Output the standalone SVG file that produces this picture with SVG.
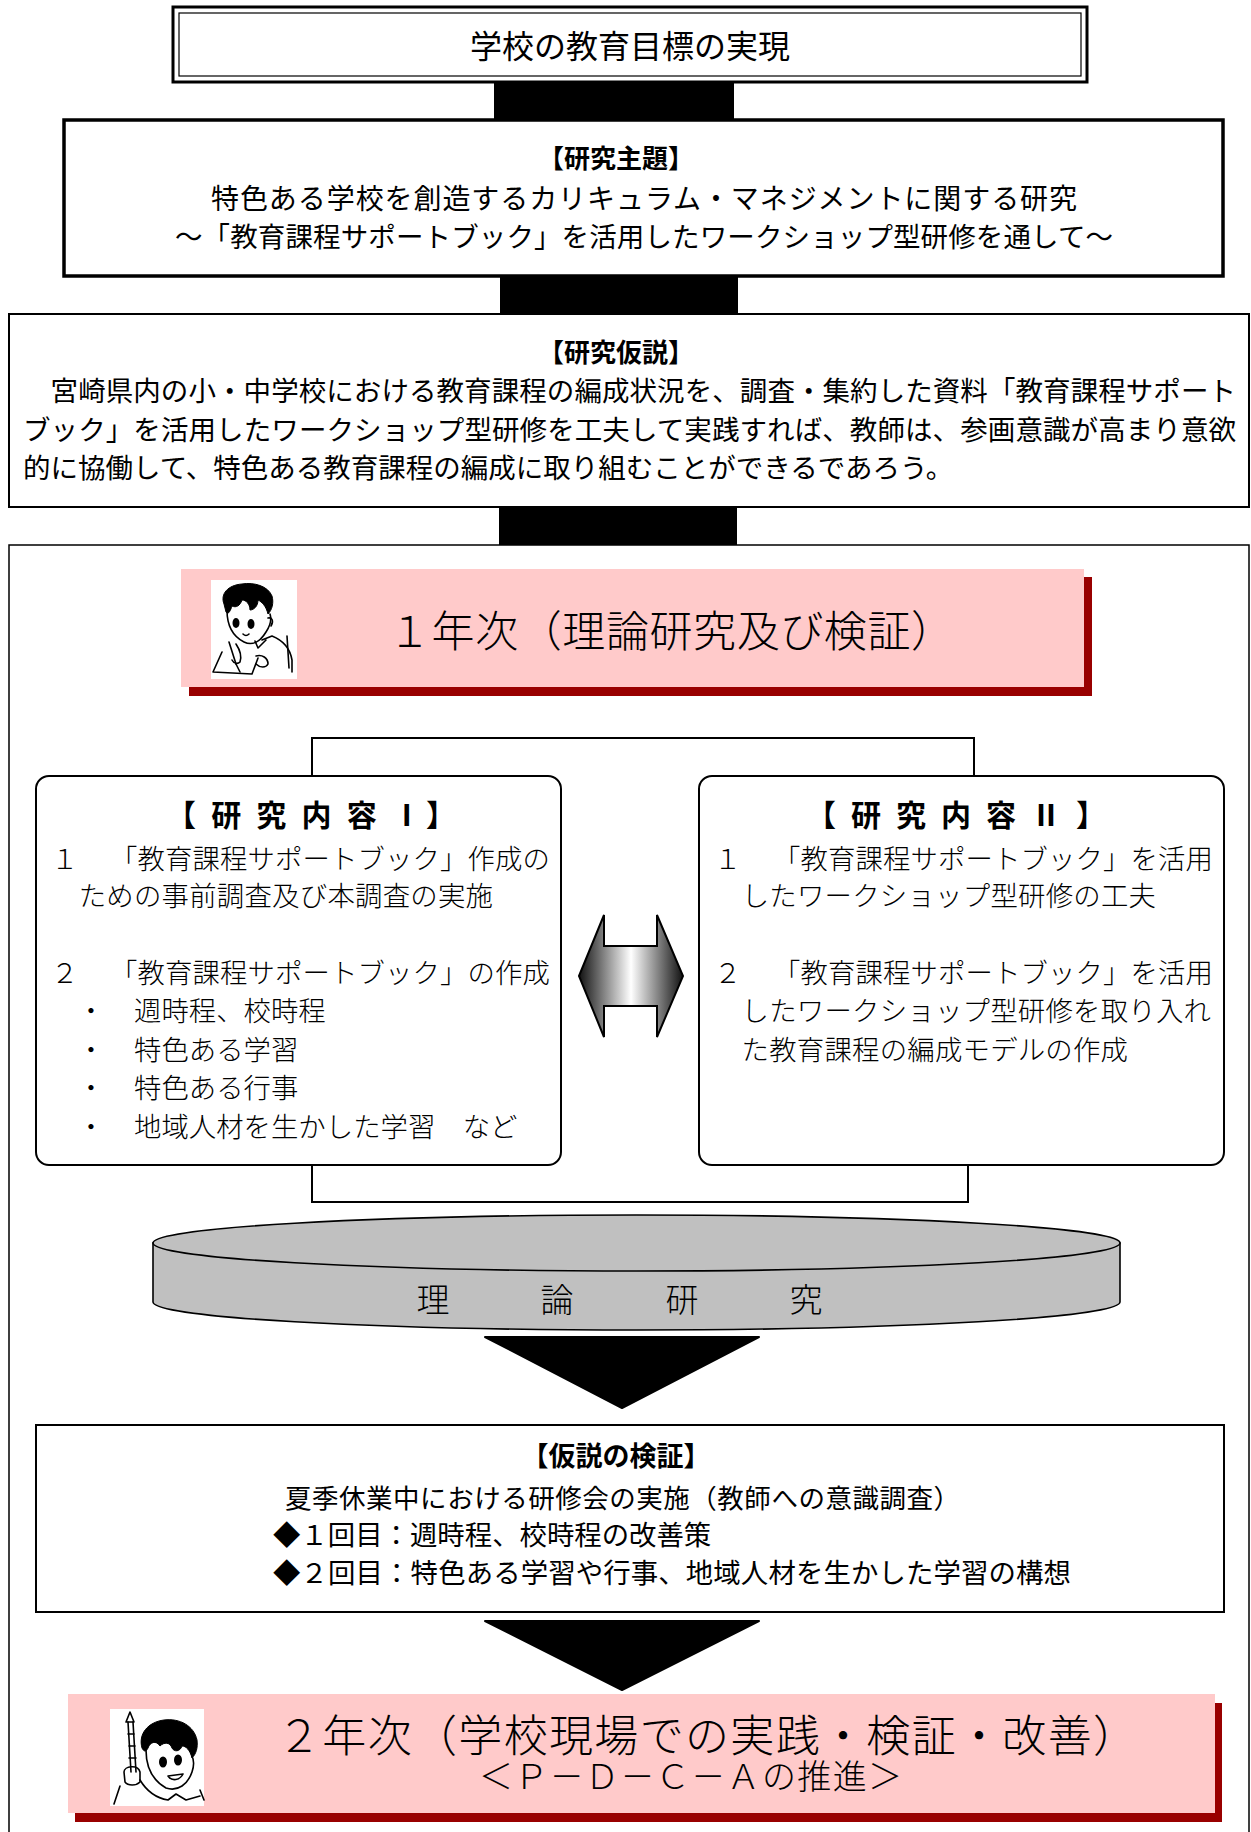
<svg xmlns="http://www.w3.org/2000/svg" width="1251" height="1832" viewBox="0 0 1251 1832">
  <defs>
    <linearGradient id="arrowShade" x1="579" y1="0" x2="683" y2="0" gradientUnits="userSpaceOnUse">
      <stop offset="0" stop-color="#111111"/>
      <stop offset="0.5" stop-color="#ffffff"/>
      <stop offset="1" stop-color="#111111"/>
    </linearGradient>
  </defs>
  <style>
    .g { font-family: "Noto Sans CJK JP", "Noto Sans", sans-serif; fill: #000; }
    .m { font-family: "Noto Sans CJK JP", "Noto Sans", sans-serif; font-weight: 300; fill: #000; }
    .b { font-weight: 700; }
    .box { fill: #fff; stroke: #000; stroke-width: 2; }
    .bar { fill: #000; }
    .banner { fill: #FFCACA; }
    .shadow { fill: #990000; }
    .line { fill: none; stroke: #000; stroke-width: 2; }
    .ink { fill: none; stroke: #000; stroke-width: 1.6; stroke-linecap: round; stroke-linejoin: round; }
    .hair { fill: #000; stroke: #000; stroke-width: 1; }
  </style>

  <rect width="1251" height="1832" fill="#fff"/>

  <!-- goal -->
  <g id="goal">
    <rect x="173" y="7" width="914" height="75" fill="#fff" stroke="#000" stroke-width="3"/>
    <rect x="179" y="13" width="902" height="63" fill="none" stroke="#000" stroke-width="1.2"/>
    <text class="g" x="630" y="58" font-size="32" text-anchor="middle">学校の教育目標の実現</text>
  </g>

  <!-- connectors -->
  <g id="connectors">
    <rect class="bar" x="494" y="83" width="240" height="36"/>
    <rect class="bar" x="500" y="277" width="238" height="37"/>
    <rect class="bar" x="499" y="507" width="238" height="38"/>
    <path class="line" d="M312,776 V738 H974 V776"/>
    <path class="line" d="M312,1165 V1202 H968 V1165"/>
    <polygon points="579,976 604,915 604,946 657,946 657,915 683,976 657,1037 657,1006 604,1006 604,1037" fill="url(#arrowShade)" stroke="#000" stroke-width="2" stroke-linejoin="miter"/>
    <polygon points="485,1337 759,1337 622,1408" fill="#000" stroke="#000" stroke-width="2" stroke-linejoin="round"/>
    <polygon points="485,1621 759,1621 622,1690" fill="#000" stroke="#000" stroke-width="2" stroke-linejoin="round"/>
  </g>

  <!-- theme -->
  <g id="theme">
    <rect x="64" y="120" width="1159" height="156" fill="#fff" stroke="#000" stroke-width="3.5"/>
    <text class="g b" x="616" y="168" font-size="26" text-anchor="middle">【研究主題】</text>
    <text class="g" x="211" y="209" font-size="28" textLength="866" lengthAdjust="spacing">特色ある学校を創造するカリキュラム・マネジメントに関する研究</text>
    <text class="g" x="175" y="247" font-size="27.5" textLength="938" lengthAdjust="spacing">～「教育課程サポートブック」を活用したワークショップ型研修を通して～</text>
  </g>

  <!-- hypothesis -->
  <g id="hypothesis">
    <rect x="9" y="314" width="1240" height="193" fill="#fff" stroke="#000" stroke-width="2"/>
    <text class="g b" x="616" y="362" font-size="26" text-anchor="middle">【研究仮説】</text>
    <text class="g" x="23" y="401" font-size="27.5" textLength="1213" lengthAdjust="spacing">　宮崎県内の小・中学校における教育課程の編成状況を、調査・集約した資料「教育課程サポート</text>
    <text class="g" x="23" y="440" font-size="27.5" textLength="1213" lengthAdjust="spacing">ブック」を活用したワークショップ型研修を工夫して実践すれば、教師は、参画意識が高まり意欲</text>
    <text class="g" x="23" y="478" font-size="27.5">的に協働して、特色ある教育課程の編成に取り組むことができるであろう。</text>
  </g>

  <!-- year one frame -->
  <g id="year1-frame">
    <rect x="9" y="545" width="1240" height="1320" fill="none" stroke="#000" stroke-width="1.5"/>
  </g>

  <!-- year one banner -->
  <g id="year1">
    <rect class="shadow" x="189" y="577" width="903" height="119"/>
    <rect class="banner" x="181" y="569" width="903" height="118"/>
    <rect x="211" y="580" width="86" height="99" fill="#fff"/>
    <!-- boy writing at a desk -->
    <path class="hair" d="M224,604 C220,594 228,585 242,584 C254,582 268,586 272,596 C274,603 272,610 268,614 C266,606 262,602 258,600 C258,606 254,610 250,610 C250,604 246,600 242,600 C240,606 236,608 232,606 C230,612 228,615 226,612 Z"/>
    <path class="ink" d="M227,610 C227,624 232,636 244,642 C252,646 260,642 266,632 C270,626 272,620 270,614"/>
    <path class="ink" d="M268,618 C272,617 274,621 271,626"/>
    <ellipse cx="236" cy="623" rx="3.5" ry="5" fill="#000"/>
    <ellipse cx="251" cy="624" rx="3.5" ry="5" fill="#000"/>
    <path class="ink" d="M243,634 C245,636 247,636 249,634"/>
    <path class="ink" d="M255,641 L258,648 L266,640 M262,640 L272,636 C282,640 290,648 292,660 L292,672"/>
    <path class="ink" d="M287,636 L289,668"/>
    <path class="ink" d="M236,644 C240,650 242,656 240,662 C238,664 234,664 232,660"/>
    <path class="ink" d="M229,642 L236,664"/>
    <path class="ink" d="M222,652 L213,672 L252,674 L258,658"/>
    <path class="ink" d="M236,664 L240,672"/>
    <path class="ink" d="M256,656 C262,654 268,658 268,664 C266,668 260,668 256,664"/>
  </g>

  <text class="m" x="388" y="647" font-size="43" textLength="566" lengthAdjust="spacing">１年次（理論研究及び検証）</text>

  <!-- research content I -->
  <g id="content-1">
    <rect class="box" x="36" y="776" width="525" height="389" rx="13"/>
    <text class="g b" x="166" y="826" font-size="30" textLength="290" lengthAdjust="spacing">【 研 究 内 容 Ⅰ】</text>
    <text class="m" x="51" y="869" font-size="27.4">１</text>
    <text class="m" x="110" y="869" font-size="27.4" textLength="440" lengthAdjust="spacing">「教育課程サポートブック」作成の</text>
    <text class="m" x="51" y="906" font-size="27.4" textLength="442" lengthAdjust="spacing">　ための事前調査及び本調査の実施</text>
    <text class="m" x="51" y="983" font-size="27.4">２</text>
    <text class="m" x="110" y="983" font-size="27.4" textLength="440" lengthAdjust="spacing">「教育課程サポートブック」の作成</text>
    <text class="m" x="91" y="1021" font-size="27.4" text-anchor="middle">・</text>
    <text class="m" x="134" y="1021" font-size="27.4">週時程、校時程</text>
    <text class="m" x="91" y="1060" font-size="27.4" text-anchor="middle">・</text>
    <text class="m" x="134" y="1060" font-size="27.4">特色ある学習</text>
    <text class="m" x="91" y="1098" font-size="27.4" text-anchor="middle">・</text>
    <text class="m" x="134" y="1098" font-size="27.4">特色ある行事</text>
    <text class="m" x="91" y="1137" font-size="27.4" text-anchor="middle">・</text>
    <text class="m" x="134" y="1137" font-size="27.4">地域人材を生かした学習　など</text>
  </g>

  <!-- research content II -->
  <g id="content-2">
    <rect class="box" x="699" y="776" width="525" height="389" rx="13"/>
    <text class="g b" x="806" y="826" font-size="30" textLength="300" lengthAdjust="spacing">【 研 究 内 容 Ⅱ 】</text>
    <text class="m" x="714" y="869" font-size="27.4">１</text>
    <text class="m" x="773" y="869" font-size="27.4" textLength="440" lengthAdjust="spacing">「教育課程サポートブック」を活用</text>
    <text class="m" x="714" y="906" font-size="27.4" textLength="442" lengthAdjust="spacing">　したワークショップ型研修の工夫</text>
    <text class="m" x="714" y="983" font-size="27.4">２</text>
    <text class="m" x="773" y="983" font-size="27.4" textLength="440" lengthAdjust="spacing">「教育課程サポートブック」を活用</text>
    <text class="m" x="714" y="1021" font-size="27.4" textLength="497" lengthAdjust="spacing">　したワークショップ型研修を取り入れ</text>
    <text class="m" x="714" y="1060" font-size="27.4" textLength="414" lengthAdjust="spacing">　た教育課程の編成モデルの作成</text>
  </g>

  <!-- theory research disc -->
  <g id="theory">
    <path d="M153,1243 V1302 A483.5,28 0 0 0 1120,1302 V1243 Z" fill="#C0C0C0" stroke="#000" stroke-width="1.6"/>
    <ellipse cx="636.5" cy="1243" rx="483.5" ry="28" fill="#C0C0C0" stroke="#000" stroke-width="1.6"/>
    <text class="m" x="433" y="1312" font-size="33" text-anchor="middle">理</text>
    <text class="m" x="557" y="1312" font-size="33" text-anchor="middle">論</text>
    <text class="m" x="682" y="1312" font-size="33" text-anchor="middle">研</text>
    <text class="m" x="806" y="1312" font-size="33" text-anchor="middle">究</text>
  </g>

  <!-- hypothesis verification -->
  <g id="verification">
    <rect class="box" x="36" y="1425" width="1188" height="187"/>
    <text class="g b" x="616" y="1466" font-size="27" text-anchor="middle">【仮説の検証】</text>
    <text class="g" x="285" y="1508" font-size="26.5" textLength="675" lengthAdjust="spacing">夏季休業中における研修会の実施（教師への意識調査）</text>
    <text class="g" x="273" y="1545" font-size="27.4">◆１回目：週時程、校時程の改善策</text>
    <text class="g" x="273" y="1583" font-size="27.4" textLength="798" lengthAdjust="spacing">◆２回目：特色ある学習や行事、地域人材を生かした学習の構想</text>
  </g>

  <!-- year two banner -->
  <g id="year2">
    <rect class="shadow" x="75" y="1703" width="1147" height="119"/>
    <rect class="banner" x="68" y="1694" width="1147" height="119"/>
    <rect x="110" y="1709" width="94" height="97" fill="#fff"/>
    <!-- boy raising a pointer -->
    <path class="ink" d="M130,1712 L126,1722 L134,1722 Z" fill="#000"/>
    <path class="ink" d="M128,1722 L131,1772 M133,1722 L136,1772"/>
    <path class="ink" d="M128,1734 L134,1734 M129,1746 L135,1746 M129,1758 L136,1758"/>
    <path class="ink" d="M124,1772 C124,1766 138,1764 140,1772 L140,1782 C136,1786 128,1786 125,1782 Z"/>
    <path class="hair" d="M142,1748 C138,1734 148,1722 164,1720 C180,1718 194,1726 197,1740 C198,1748 196,1754 192,1758 C190,1750 186,1746 182,1746 C180,1752 174,1752 172,1748 C170,1742 164,1742 160,1746 C156,1740 150,1742 148,1748 C146,1752 144,1752 142,1748 Z"/>
    <path class="ink" d="M146,1750 C146,1766 152,1780 166,1788 C178,1792 188,1784 192,1772 C194,1766 194,1760 192,1756"/>
    <ellipse cx="163" cy="1762" rx="4" ry="5.5" fill="#000"/>
    <ellipse cx="178" cy="1760" rx="4" ry="5.5" fill="#000"/>
    <path class="ink" d="M168,1776 C172,1782 180,1780 183,1774 Z" fill="#000"/>
    <path class="ink" d="M140,1780 C146,1790 156,1798 168,1800 L176,1794 L186,1800 L200,1796"/>
    <path class="ink" d="M120,1786 L114,1804 M200,1790 L204,1800"/>
  </g>

  <text class="m" x="277" y="1752" font-size="44" textLength="860" lengthAdjust="spacing">２年次（学校現場での実践・検証・改善）</text>
  <text class="m" x="479" y="1789" font-size="34" textLength="423" lengthAdjust="spacing">＜Ｐ－Ｄ－Ｃ－Ａの推進＞</text>
</svg>
